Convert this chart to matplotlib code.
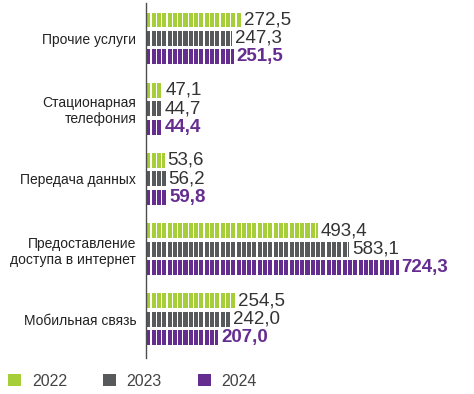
import matplotlib
matplotlib.use("Agg")
import matplotlib.pyplot as plt
from matplotlib.patches import Patch
import numpy as np

categories = ["Прочие услуги", "Стационарная\nтелефония", "Передача данных",
              "Предоставление\nдоступа в интернет", "Мобильная связь"]
years = ["2022", "2023", "2024"]
v2022 = [272.5, 47.1, 53.6, 493.4, 254.5]
v2023 = [247.3, 44.7, 56.2, 583.1, 242.0]
v2024 = [251.5, 44.4, 59.8, 724.3, 207.0]

colors = ["#a6ce39", "#58595b", "#662d91"]
text_colors = ["#333333", "#333333", "#662d91"]
weights = ["normal", "normal", "bold"]

plt.rcParams["font.family"] = ["Liberation Sans", "DejaVu Sans"]

fig = plt.figure(figsize=(4.74, 3.94), dpi=100)
ax = fig.add_axes([146 / 474, 36 / 394, 328 / 474, 355 / 394])

step, gap = 15.2, 3.6
pitch, height = 0.263, 0.213
y = np.arange(len(categories))

for i, vals in enumerate([v2022, v2023, v2024]):
    for g, v in enumerate(vals):
        yc = y[g] + (i - 1) * pitch
        segs = []
        x0 = 1.0
        while x0 < v:
            segs.append((x0, min(step - gap, v - x0)))
            x0 += step
        ax.broken_barh(segs, (yc - height / 2, height), facecolors=colors[i])
        ax.annotate(f"{v:.1f}".replace(".", ","), (v, yc), xytext=(2, 0),
                    textcoords="offset points", va="center", ha="left",
                    fontsize=13.5, color=text_colors[i], fontweight=weights[i])

ax.set_xlim(0, 940)
ax.set_ylim(4.55, -0.505)
ax.set_yticks(y)
ax.set_yticklabels(categories, fontsize=10, color="#222222")
ax.tick_params(axis="y", length=0, pad=7)
ax.set_xticks([])
for s in ["top", "right", "bottom"]:
    ax.spines[s].set_visible(False)
ax.spines["left"].set_color("#4d4d4d")
ax.spines["left"].set_linewidth(1.0)

handles = [Patch(facecolor=c, edgecolor="none") for c in colors]
fig.legend(handles, years, loc="center left", bbox_to_anchor=(8 / 474, 13 / 394),
           ncol=3, frameon=False, fontsize=11.5, labelcolor="#444444",
           handlelength=0.84, handleheight=0.84, handletextpad=0.65,
           columnspacing=2.25, borderaxespad=0, borderpad=0)

fig.savefig("out.png", dpi=100)
